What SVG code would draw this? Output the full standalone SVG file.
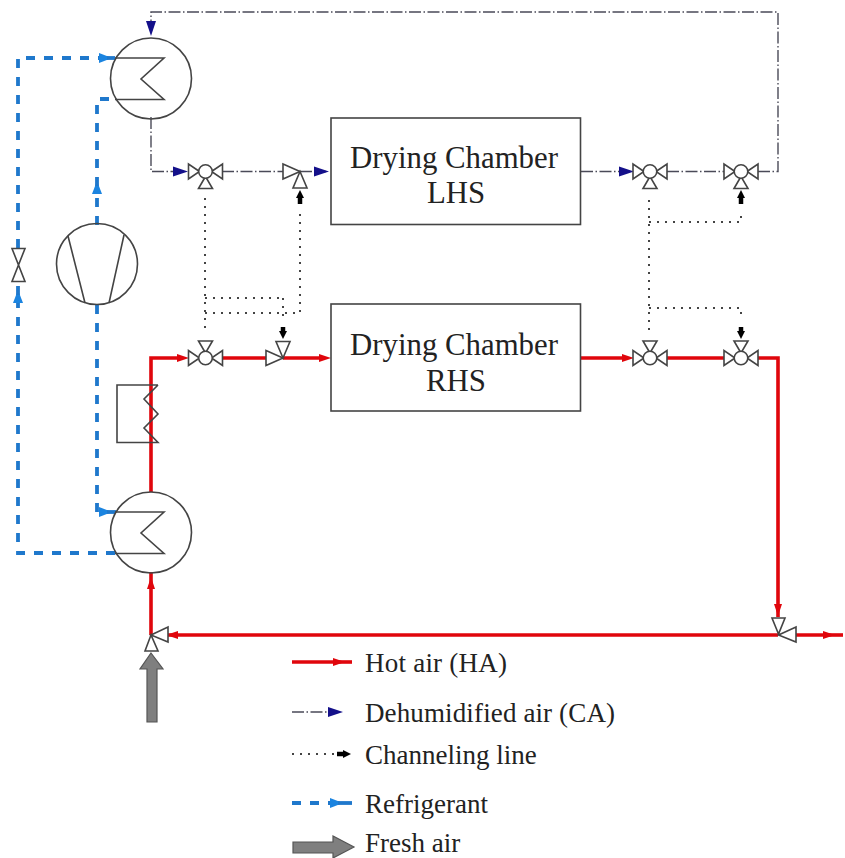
<svg xmlns="http://www.w3.org/2000/svg" width="845" height="858" viewBox="0 0 845 858">
<style>
.sym{fill:none;stroke:#444;stroke-width:1.6;stroke-linejoin:miter}
.vlv{fill:#fff;stroke:#444;stroke-width:1.6}
.ha{fill:none;stroke:#e0060c;stroke-width:3.6}
.ca{fill:none;stroke:#4a4a58;stroke-width:1.4;stroke-dasharray:12 2.5 1.5 2.5}
.ch{fill:none;stroke:#444;stroke-width:2;stroke-dasharray:2 6}
.rf{fill:none;stroke:#1f78cc;stroke-width:3.8;stroke-dasharray:9 9}
.bk{fill:none;stroke:#000;stroke-width:4.500}
.fresh{fill:#7f7f7f;stroke:#555;stroke-width:1.2}
text{font-family:"Liberation Serif","Times New Roman",serif;fill:#222}
.t1{font-size:30.8px;text-anchor:middle}
.t2{font-size:27px}
</style>
<defs>
<marker id="mHa" viewBox="0 -5 16 10" markerWidth="16" markerHeight="10" refX="6" refY="0" orient="auto" markerUnits="userSpaceOnUse"><path d="M0 -4L12 0L0 4Z" fill="#e0060c"/></marker>
<marker id="mCa" viewBox="0 -6 18 12" markerWidth="18" markerHeight="12" refX="12" refY="0" orient="auto" markerUnits="userSpaceOnUse"><path d="M0 -5L15 0L0 5Z" fill="#14108a"/></marker>
<marker id="mRf" viewBox="0 -6 18 12" markerWidth="18" markerHeight="12" refX="8" refY="0" orient="auto" markerUnits="userSpaceOnUse"><path d="M0 -5L13 0L0 5Z" fill="#1b84e0"/></marker>
<marker id="mBk" viewBox="0 -6 14 12" markerWidth="14" markerHeight="12" refX="2" refY="0" orient="auto" markerUnits="userSpaceOnUse"><path d="M0 -4L8 0L0 4Z" fill="#000"/></marker>
<g id="v3">
<path class="vlv" d="M-6 0L-17 -7.500V7.500Z"/>
<path class="vlv" d="M6 0L17 -7.500V7.500Z"/>
<path class="vlv" d="M0 5L-7 17H7Z"/>
<circle class="vlv" r="6.800"/>
</g>
<g id="v2">
<path class="vlv" d="M0 0L-17 -7.500V7.500Z"/>
<path class="vlv" d="M0 0L-7 16.500H7Z"/>
</g>
<g id="hxc">
<circle class="sym" r="40.500"/>
<path class="sym" d="M-36 -20.500H13L-10 0.500L13 21H-36"/>
</g>
</defs>

<g id="connectors">
<!-- dehumidified air -->
<path class="ca" d="M151 117V171.500H185" marker-end="url(#mCa)"/>
<path class="ca" d="M222 171.500H283"/>
<path class="ca" d="M300 171.500H326" marker-end="url(#mCa)"/>
<path class="ca" d="M581 171.500H631" marker-end="url(#mCa)"/>
<path class="ca" d="M667 171.500H724"/>
<path class="ca" d="M758 171.500H778V12H151V33" marker-end="url(#mCa)"/>
<!-- channeling lines -->
<path class="ch" d="M205 198V332"/>
<path class="ch" d="M205 298H285"/>
<path class="ch" d="M205 313H300V212"/>
<path class="ch" d="M283 298V318"/>
<path class="ch" d="M649 200V330"/>
<path class="ch" d="M649 222H741V212"/>
<path class="ch" d="M649 308H741V318"/>
<path class="bk" d="M300 204V196" marker-end="url(#mBk)"/>
<path class="bk" d="M283 327V333" marker-end="url(#mBk)"/>
<path class="bk" d="M741 204V196" marker-end="url(#mBk)"/>
<path class="bk" d="M741 327V333" marker-end="url(#mBk)"/>
<!-- hot air -->
<path class="ha" d="M151 492V358H183" marker-end="url(#mHa)"/>
<path class="ha" d="M222 358H267"/>
<path class="ha" d="M283 358H325" marker-end="url(#mHa)"/>
<path class="ha" d="M581 358H628" marker-end="url(#mHa)"/>
<path class="ha" d="M667 358H725"/>
<path class="ha" d="M757 358H778V610" marker-end="url(#mHa)"/>
<path class="ha" d="M778 610V617"/>
<path class="ha" d="M778 635H168"/>
<path class="ha" d="M178 635H172" marker-end="url(#mHa)"/>
<path class="ha" d="M796 635H829" marker-end="url(#mHa)"/>
<path class="ha" d="M829 635H843"/>
<path class="ha" d="M151 635V583" marker-end="url(#mHa)"/>
<path class="ha" d="M151 583V572"/>
<!-- refrigerant -->
<path class="rf" d="M18 248V58H107" marker-end="url(#mRf)"/>
<path class="rf" d="M107 58H115"/>
<path class="rf" d="M97 225V186" marker-end="url(#mRf)"/>
<path class="rf" d="M97 186V99H117"/>
<path class="rf" d="M97 305V512H107" marker-end="url(#mRf)"/>
<path class="rf" d="M107 512H116"/>
<path class="rf" d="M115 553H18V295" marker-end="url(#mRf)"/>
<path class="rf" d="M18 295V282"/>
</g>

<g id="condenser-top"><use href="#hxc" x="151" y="78.500"/></g>
<g id="condenser-bottom"><use href="#hxc" x="151" y="532.500"/></g>
<g id="compressor">
<circle class="sym" cx="97" cy="264" r="40.500"/>
<path class="sym" d="M68 236L85 303M124 235L109 303"/>
</g>
<g id="expansion-valve"><path class="vlv" d="M12 248.500H25L12 281.500H25Z"/></g>
<g id="heater"><path class="sym" d="M158 385H117V442.500H158L144 428L158 414L144 399L158 385"/></g>

<g id="valve-l1"><use href="#v3" x="205.500" y="171.500"/></g>
<g id="valve-l2"><use href="#v2" x="300" y="171.500"/></g>
<g id="valve-l3"><use href="#v3" x="650" y="171.500"/></g>
<g id="valve-l4"><use href="#v3" x="741" y="171.500"/></g>
<g id="valve-r1"><use href="#v3" transform="translate(205.500 358) scale(1 -1)"/></g>
<g id="valve-r2"><use href="#v2" transform="translate(283 358) scale(1 -1)"/></g>
<g id="valve-r3"><use href="#v3" transform="translate(650 358) scale(1 -1)"/></g>
<g id="valve-r4"><use href="#v3" transform="translate(741 358) scale(1 -1)"/></g>
<g id="valve-mix-right"><path class="vlv" d="M778.500 634L772 618H785ZM778.500 635L796 627V642Z"/></g>
<g id="valve-mix-left"><path class="vlv" d="M151 635L168 627V642ZM151 635L145 651H158Z"/></g>

<g id="chamber-lhs">
<rect class="sym" x="331" y="118" width="249.500" height="106.500"/>
<text class="t1" x="454" y="168">Drying Chamber</text>
<text class="t1" x="456" y="203">LHS</text>
</g>
<g id="chamber-rhs">
<rect class="sym" x="331" y="304" width="249.500" height="107"/>
<text class="t1" x="454" y="355">Drying Chamber</text>
<text class="t1" x="456" y="391">RHS</text>
</g>

<g id="fresh-air-inlet"><path class="fresh" d="M151 653L163 669H157V722H147V669H140Z"/></g>

<g id="legend">
<path class="ha" d="M292 662H339" marker-end="url(#mHa)"/><path class="ha" d="M339 662H352"/>
<text class="t2" x="365" y="672" textLength="142">Hot air (HA)</text>
<path class="ca" d="M292 712H340" marker-end="url(#mCa)"/>
<text class="t2" x="365" y="722" textLength="250">Dehumidified air (CA)</text>
<path class="ch" d="M292 754H334"/><path class="bk" d="M337 754H345" marker-end="url(#mBk)"/>
<text class="t2" x="365" y="764">Channeling line</text>
<path class="rf" d="M292 803H338" marker-end="url(#mRf)"/><path class="rf" style="stroke-dasharray:none" d="M338 803H352"/>
<text class="t2" x="365" y="813">Refrigerant</text>
<path class="fresh" d="M293 842H333V836L354 847L333 858V853H293Z"/>
<text class="t2" x="365" y="851.500">Fresh air</text>
</g>
</svg>
